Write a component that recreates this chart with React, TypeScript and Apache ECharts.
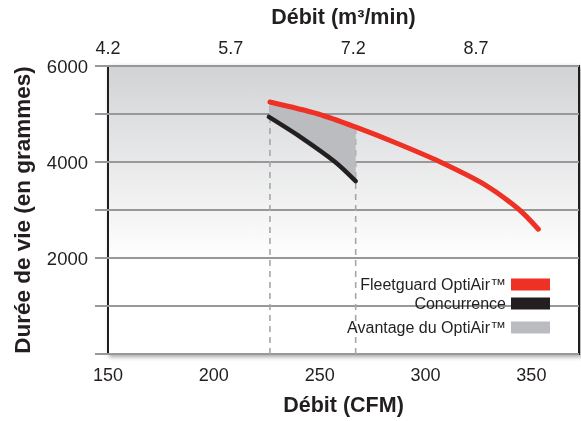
import React, { useEffect, useRef } from "react";
import * as echarts from "echarts";

// Bottom axis: débit in CFM
const cfmMin = 150;
const cfmMax = 372.5;
const cfmStep = 50;
// Top axis: débit in m³/min (offset from first tick)
const topTickLabels = ["4.2", "5.7", "7.2", "8.7"];
const topStep = 1.5;
const topSpan = 5.76;
// Left axis
const lifeTickValues = [2000, 4000, 6000];

// Fleetguard OptiAir™ curve
const redCFM = [226.5, 249.3, 266.8, 287, 307, 328.3, 343.9, 353.3];
const redLife = [5250, 5000, 4730, 4380, 4000, 3520, 3020, 2600];
// Concurrence curve
const blackCFM = [226, 240.8, 257.3, 267];
const blackLife = [4940, 4524, 4000, 3600];
// Advantage zone
const advCFM = [226.3, 240.8, 257.3, 267];
const advTop = [5250, 5088, 4877, 4725];
const advBottom = [4940, 4524, 4000, 3600];
// Dashed reference lines
const markerCFM = [226.5, 267];
const markerTop = [5250, 4725];

const names = ["Fleetguard OptiAir™", "Concurrence", "Avantage du OptiAir™"];
const colors = ["#ee3124", "#231f20", "#bbbcbf"];

const FONT = "Liberation Sans, Arial, Helvetica, sans-serif";

export default function App() {
  const ref = useRef<HTMLDivElement>(null);
  useEffect(() => {
    if (!ref.current) return;
    const chart = echarts.init(ref.current, undefined, { renderer: "svg" });
    const advData = advCFM.map((x, i) => [x, advTop[i], advBottom[i]]);
    const option: any = {
      animation: false,
      textStyle: { fontFamily: FONT },
      grid: {
        left: 108,
        right: 2,
        top: 66,
        bottom: 61,
        show: true,
        borderColor: "#231f20",
        borderWidth: 2,
        backgroundColor: new echarts.graphic.LinearGradient(0, 0, 0, 1, [
          { offset: 0, color: "#d2d3d5" },
          { offset: 0.68, color: "#ffffff" },
          { offset: 1, color: "#ffffff" },
        ]),
        shadowColor: "rgba(0,0,0,0.35)",
        shadowBlur: 4,
        shadowOffsetX: 2,
        shadowOffsetY: 2,
      },
      legend: [
        {
          data: [names[0], names[1]],
          orient: "vertical",
          right: 26,
          top: 271,
          align: "right",
          icon: "rect",
          itemWidth: 39,
          itemHeight: 12,
          itemGap: 2,
          textStyle: { fontSize: 16, color: "#231f20", fontFamily: FONT, lineHeight: 17 },
        },
        {
          data: [names[2]],
          orient: "vertical",
          right: 26,
          top: 314,
          align: "right",
          icon: "rect",
          itemWidth: 39,
          itemHeight: 12,
          textStyle: { fontSize: 16, color: "#231f20", fontFamily: FONT, lineHeight: 17 },
        },
      ],
      xAxis: [
        {
          type: "value",
          position: "bottom",
          min: cfmMin,
          max: cfmMax,
          interval: cfmStep,
          axisLine: { show: false },
          axisTick: { show: false },
          splitLine: { show: false },
          axisLabel: { showMaxLabel: false, fontSize: 18, color: "#231f20", margin: 12, fontFamily: FONT },
          name: "Débit (CFM)",
          nameLocation: "middle",
          nameGap: 40,
          nameTextStyle: { fontSize: 21.5, fontWeight: "bold", color: "#231f20", fontFamily: FONT },
        },
        {
          type: "value",
          position: "top",
          min: 0,
          max: topSpan,
          interval: topStep,
          axisLine: { show: false },
          axisTick: { show: false },
          splitLine: { show: false },
          axisLabel: {
            showMaxLabel: false,
            fontSize: 18,
            color: "#231f20",
            margin: 9,
            fontFamily: FONT,
            formatter: (v: number) => topTickLabels[Math.round(v / topStep)] ?? "",
          },
          name: "Débit (m³/min)",
          nameLocation: "middle",
          nameGap: 38,
          nameTextStyle: { fontSize: 21.5, fontWeight: "bold", color: "#231f20", fontFamily: FONT },
        },
      ],
      yAxis: {
        type: "value",
        min: 0,
        max: 6000,
        interval: 1000,
        axisLine: { show: false },
        axisTick: { show: true, length: 13, lineStyle: { color: "#98989b", width: 2 } },
        splitLine: { show: true, lineStyle: { color: "#98989b", width: 2 } },
        axisLabel: {
          fontSize: 18.5,
          color: "#231f20",
          margin: 20,
          fontFamily: FONT,
          formatter: (v: number) => (lifeTickValues.includes(v) ? String(v) : ""),
        },
        name: "Durée de vie (en grammes)",
        nameLocation: "middle",
        nameGap: 74,
        nameTextStyle: { fontSize: 22.5, fontWeight: "bold", color: "#231f20", fontFamily: FONT },
      },
      series: [
        ...markerCFM.map((x, i) => ({
          type: "line",
          name: "marker" + i,
          data: [
            [x, 0],
            [x, markerTop[i]],
          ],
          symbol: "none",
          silent: true,
          z: 1,
          lineStyle: { color: "#a5a6a9", width: 1.6, type: [6, 5] },
        })),
        {
          type: "custom",
          name: names[2],
          data: advData,
          encode: { x: 0, y: [1, 2] },
          itemStyle: { color: colors[2] },
          z: 2,
          renderItem: (params: any, api: any) => {
            if (params.dataIndex !== 0) return null;
            const pts: number[][] = [];
            advData.forEach((d) => pts.push(api.coord([d[0], d[1]])));
            for (let i = advData.length - 1; i >= 0; i--) pts.push(api.coord([advData[i][0], advData[i][2]]));
            return { type: "polygon", shape: { points: pts }, style: { fill: colors[2] } };
          },
        },
        {
          type: "line",
          name: names[1],
          data: blackCFM.map((x, i) => [x, blackLife[i]]),
          smooth: 0.3,
          symbol: "none",
          z: 3,
          itemStyle: { color: colors[1] },
          lineStyle: { color: colors[1], width: 4.5, cap: "round" },
        },
        {
          type: "line",
          name: names[0],
          data: redCFM.map((x, i) => [x, redLife[i]]),
          smooth: 0.3,
          symbol: "none",
          z: 4,
          itemStyle: { color: colors[0] },
          lineStyle: { color: colors[0], width: 5, cap: "round" },
        },
      ],
    };
    chart.setOption(option);
    return () => chart.dispose();
  }, []);
  return <div ref={ref} style={{ position: "fixed", left: 0, top: 0, width: 581, height: 421 }} />;
}
